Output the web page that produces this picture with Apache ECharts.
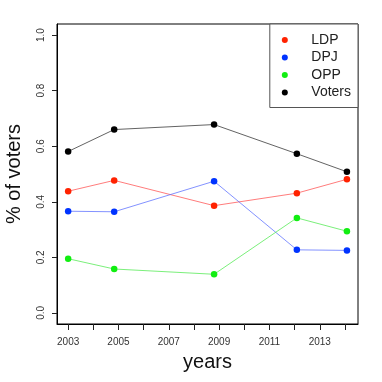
<!DOCTYPE html>
<html>
<head>
<meta charset="utf-8">
<script src="https://cdn.jsdelivr.net/npm/echarts@6/dist/echarts.min.js"></script>
<style>
  html, body { margin: 0; padding: 0; background: #fff; }
  #chart1 { width: 382px; height: 382px; }
</style>
</head>
<body>
<div id="chart1"></div>
<script>
// election years
var years = [2003.0, 2004.83, 2008.8, 2012.09, 2014.08];

var ldp = [0.438, 0.477, 0.386, 0.431, 0.481];
var dpj = [0.366, 0.364, 0.474, 0.227, 0.225];
var opp = [0.195, 0.158, 0.139, 0.342, 0.294];
var voters = [0.581, 0.660, 0.678, 0.573, 0.508];

var xTicks = [2003, 2004, 2005, 2006, 2007, 2008, 2009, 2010, 2011, 2012, 2013, 2014];
var xLabels = [2003, 2005, 2007, 2009, 2011, 2013];
var yTicks = [0, 0.2, 0.4, 0.6, 0.8, 1.0];

function pairs(vals) {
    return years.map(function(y, i) { return [y, vals[i]]; });
}

function makeSeries(name, vals, dotColor, lineColor) {
    return {
        name: name,
        type: 'line',
        data: pairs(vals),
        symbol: 'circle',
        symbolSize: 6.5,
        showSymbol: true,
        itemStyle: { color: dotColor },
        lineStyle: { color: lineColor, width: 1 },
        emphasis: { disabled: true },
        z: 3
    };
}

var chart = echarts.init(document.getElementById('chart1'));

var option = {
    backgroundColor: '#fff',
    animation: false,
    textStyle: { fontFamily: 'Liberation Sans' },
    grid: {
        left: 57, top: 24, right: 24, bottom: 58,
        outerBoundsMode: 'none',
        containLabel: false,
        show: true,
        borderColor: '#000',
        borderWidth: 1,
        backgroundColor: 'transparent'
    },
    legend: {
        data: ['LDP', 'DPJ', 'OPP', 'Voters'],
        orient: 'vertical',
        right: 24,
        top: 24,
        backgroundColor: '#fff',
        borderColor: '#555',
        borderWidth: 1,
        padding: [9, 7, 8, 12],
        itemGap: 3.5,
        itemWidth: 15,
        itemHeight: 6,
        icon: 'circle',
        textStyle: { fontSize: 14, color: '#222', padding: [0, 0, 0, 14] }
    },
    xAxis: {
        type: 'value',
        min: 2002.557,
        max: 2014.52,
        name: 'years',
        nameLocation: 'middle',
        nameGap: 28,
        nameTextStyle: { fontSize: 20, color: '#111' },
        axisLine: { show: true, onZero: false, lineStyle: { color: '#000', width: 1 } },
        splitLine: { show: false },
        axisTick: {
            show: true,
            inside: false,
            length: 6,
            customValues: xTicks,
            lineStyle: { color: '#222' }
        },
        axisLabel: {
            customValues: xLabels,
            fontSize: 10,
            color: '#333',
            margin: 13,
            formatter: function(v) { return String(v); }
        }
    },
    yAxis: {
        type: 'value',
        min: -0.04,
        max: 1.04,
        name: '% of voters',
        nameLocation: 'middle',
        nameGap: 33,
        nameRotate: 90,
        nameTextStyle: { fontSize: 20, color: '#111' },
        axisLine: { show: true, onZero: false, lineStyle: { color: '#000', width: 1 } },
        splitLine: { show: false },
        axisTick: {
            show: true,
            inside: false,
            length: 5,
            customValues: yTicks,
            lineStyle: { color: '#222' }
        },
        axisLabel: {
            customValues: yTicks,
            rotate: 90,
            fontSize: 10,
            color: '#333',
            margin: 11,
            formatter: function(v) { return v.toFixed(1); }
        }
    },
    series: [
        makeSeries('LDP', ldp, '#ff2200', 'rgba(255,80,80,0.75)'),
        makeSeries('DPJ', dpj, '#0033ff', 'rgba(90,110,255,0.75)'),
        makeSeries('OPP', opp, '#11ee11', 'rgba(90,235,90,0.8)'),
        makeSeries('Voters', voters, '#000', 'rgba(60,60,60,0.8)')
    ]
};

chart.setOption(option);
</script>
</body>
</html>
